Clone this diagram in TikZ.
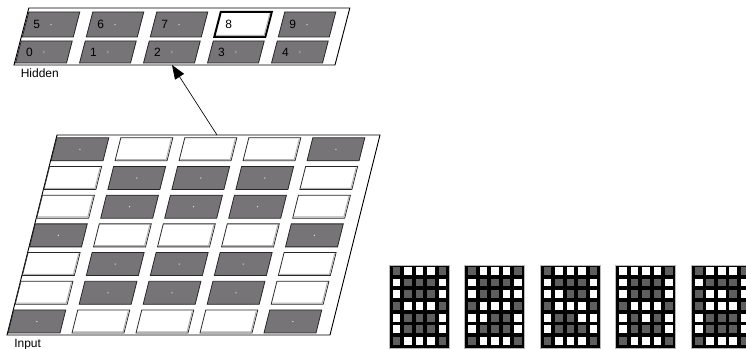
\documentclass[tikz,border=0pt]{standalone}
\usepackage{fontspec}
\setmainfont{Liberation Sans}
\usetikzlibrary{arrows.meta}
\definecolor{cellgray}{HTML}{767476}
\definecolor{pixgray}{HTML}{5E5E5E}

% input pattern and the five sample digits (1 = white, 0 = gray)
\newcommand{\patInput}{{0,1,1,1,0},{1,0,0,0,1},{1,0,0,0,1},{0,1,1,1,0},{1,0,0,0,1},{1,0,0,0,1},{0,1,1,1,0}}
\newcommand{\patB}{{0,1,1,1,0},{1,0,0,0,1},{1,0,0,1,1},{0,1,1,1,0},{1,1,0,0,1},{1,0,0,0,1},{0,1,1,1,0}}
\newcommand{\patC}{{0,1,1,1,0},{1,0,0,0,1},{1,1,0,0,1},{0,1,1,1,0},{1,0,0,1,1},{1,0,0,0,1},{0,1,1,1,0}}
\newcommand{\patD}{{1,1,1,1,0},{1,0,0,0,1},{1,0,0,0,1},{0,1,1,1,0},{1,0,1,0,1},{1,0,0,0,1},{0,1,1,1,0}}
\newcommand{\patE}{{0,1,1,1,0},{1,0,0,0,1},{0,1,1,0,1},{0,1,1,1,0},{1,0,0,0,1},{1,0,0,0,1},{0,1,1,1,0}}

\tikzset{
  layer/.style={draw=black, line width=0.7pt, fill=white},
  oncell/.style={draw=black!85, line width=0.6pt, fill=cellgray},
  offcell/.style={draw=black!85, line width=0.6pt, fill=white},
  bevel/.style={draw=gray!60, line width=0.8pt},
  lbl/.style={font=\fontsize{9}{10}\selectfont, inner sep=0pt}
}

% small digit bitmap: left x, pattern
\newcommand{\digitgrid}[2]{%
  \fill[black] (#1,1) rectangle ++(60,83);
  \draw[gray!55, line width=0.5pt] (#1,1) rectangle ++(60,83);
  \foreach \rowbits [count=\ri] in #2 {
    \foreach \bit [count=\ci] in \rowbits {
      \ifnum\bit=1\relax\def\pixcol{white}\else\def\pixcol{pixgray}\fi
      \fill[\pixcol] (#1+11.5*\ci-8, 93.7-11.7*\ri) rectangle ++(7.6,-7.8);
    }
  }
}

\begin{document}
\begin{tikzpicture}[x=0.75pt, y=0.75pt]
\useasboundingbox (0,0) rectangle (746,349);
\clip (0,0) rectangle (746,349);

% input layer
\begin{scope}[shift={(7,14)}, xslant=0.25]
  \draw[layer] (0,0) rectangle (323,200);
  \coordinate (inputtop) at (160,200);
  \foreach \rowbits [count=\ri] in \patInput {
    \foreach \bit [count=\ci] in \rowbits {
      \pgfmathsetmacro\ux{0.5+64*(\ci-1)}
      \pgfmathsetmacro\vy{2+28.7*(7-\ri)}
      \ifnum\bit=1\relax
        \draw[offcell] (\ux,\vy) rectangle (\ux+52,\vy+23);
        \draw[bevel] (\ux+50.8,\vy+22) -- (\ux+50.8,\vy+1.2) -- (\ux+1,\vy+1.2);
      \else
        \draw[oncell] (\ux,\vy) rectangle (\ux+52,\vy+23);
        \fill[white!85!cellgray] (\ux+26,\vy+11.5) circle (0.5pt);
      \fi
    }
  }
\end{scope}

% hidden layer
\begin{scope}[shift={(14,284)}, xslant=0.26]
  \draw[layer] (0,0) rectangle (321,57);
  \coordinate (hiddenbottom) at (158,0);
  \foreach \digit in {0,...,9} {
    \pgfmathtruncatemacro\hcol{mod(\digit,5)}
    \pgfmathsetmacro\ux{1+64*\hcol}
    \ifnum\digit<5\relax\def\vlo{2}\def\vhi{24}\else\def\vlo{28}\def\vhi{53}\fi
    \ifnum\digit=8\relax
      \draw[offcell, draw=black, line width=1.5pt] (\ux,\vlo) rectangle (\ux+51,\vhi);
      \draw[bevel] (\ux+49.5,\vhi-1.5) -- (\ux+49.5,\vlo+1.5) -- (\ux+1.5,\vlo+1.5);
    \else
      \draw[oncell] (\ux,\vlo) rectangle (\ux+51,\vhi);
      \fill[white!80!cellgray] (\ux+25.5,{(\vlo+\vhi)/2}) circle (0.5pt);
    \fi
    \node[lbl, anchor=west] (h\digit) at (\ux+7.5,{(\vlo+\vhi)/2}) {\digit};
  }
\end{scope}

\node[lbl, anchor=base west] (hiddenlabel) at (20.5,271) {Hidden};
\node[lbl, anchor=base west] (inputlabel) at (14,1.3) {Input};

\draw[-{Triangle[length=10.5pt,width=8pt]}, line width=0.5pt] (inputtop) -- (hiddenbottom);

% sample digits
\digitgrid{389}{\patInput}
\digitgrid{464.6}{\patB}
\digitgrid{540.2}{\patC}
\digitgrid{615.8}{\patD}
\digitgrid{691.4}{\patE}
\end{tikzpicture}
\end{document}
